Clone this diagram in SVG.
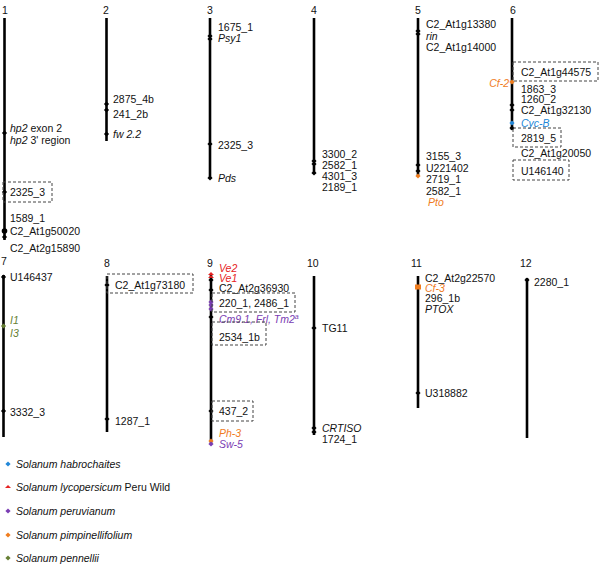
<svg xmlns="http://www.w3.org/2000/svg" width="600" height="565" viewBox="0 0 600 565">
<style>
text{font-family:"Liberation Sans",Arial,sans-serif;font-size:10.5px;fill:#111}
.i{font-style:italic}
.chr{stroke:#000;stroke-width:2.6;fill:none}
.box{fill:none;stroke:#444;stroke-width:1;stroke-dasharray:3,2}
.or{fill:#f07d1e}.bl{fill:#2287d8}.rd{fill:#e62222}.pu{fill:#7a3db3}.gr{fill:#667f34}
</style>
<defs>
<path id="m" d="M-2.6,0 L0,-2.6 L2.6,0 L0,2.6 Z"/>
<path id="t" d="M-3,1 L0,-2 L3,1 Z"/>
</defs>
<g id="connectors"/>
<g id="chr1">
<text x="2" y="14">1</text>
<line class="chr" x1="4.5" y1="18" x2="4.5" y2="240"/>
<use href="#m" x="4.5" y="133"/><use href="#m" x="4.5" y="192"/>
<circle cx="4.5" cy="231" r="2.8"/><use href="#m" x="4.5" y="237"/>
<text x="10" y="132"><tspan class="i">hp2</tspan> exon 2</text>
<text x="10" y="144"><tspan class="i">hp2</tspan> 3' region</text>
<rect class="box" x="3" y="182" width="49" height="20"/>
<text x="10" y="196">2325_3</text>
<text x="10" y="222">1589_1</text>
<text x="10" y="235">C2_At1g50020</text>
<text x="10" y="252">C2_At2g15890</text>
</g>
<g id="chr2">
<text x="103" y="14">2</text>
<line class="chr" x1="106.5" y1="18" x2="106.5" y2="141"/>
<use href="#m" x="106.5" y="104"/><use href="#m" x="106.5" y="110"/><use href="#m" x="106.5" y="134"/>
<text x="113" y="103">2875_4b</text>
<text x="113" y="118">241_2b</text>
<text x="113" y="138" class="i">fw 2.2</text>
</g>
<g id="chr3">
<text x="207" y="14">3</text>
<line class="chr" x1="210" y1="18" x2="210" y2="178"/>
<use href="#m" x="210" y="36"/><use href="#m" x="210" y="39"/><use href="#m" x="210" y="144"/><use href="#m" x="210" y="178"/>
<text x="218" y="31">1675_1</text>
<text x="218" y="42" class="i">Psy1</text>
<text x="218" y="149">2325_3</text>
<text x="218" y="182" class="i">Pds</text>
</g>
<g id="chr4">
<text x="311" y="14">4</text>
<line class="chr" x1="314" y1="18" x2="314" y2="174"/>
<use href="#m" x="314" y="161"/><use href="#m" x="314" y="164"/><use href="#m" x="314" y="173"/>
<text x="322" y="158">3300_2</text>
<text x="322" y="168.5">2582_1</text>
<text x="322" y="179.5">4301_3</text>
<text x="322" y="190.5">2189_1</text>
</g>
<g id="chr5">
<text x="415" y="14">5</text>
<line class="chr" x1="418" y1="18" x2="418" y2="176"/>
<use href="#m" x="418" y="31"/><use href="#m" x="418" y="34"/><use href="#m" x="418" y="165"/><use href="#m" x="418" y="171"/>
<use href="#m" x="418" y="176" class="or"/>
<text x="426" y="28">C2_At1g13380</text>
<text x="426" y="40" class="i">rin</text>
<text x="426" y="51">C2_At1g14000</text>
<text x="426" y="160">3155_3</text>
<text x="426" y="171.5">U221402</text>
<text x="426" y="182.5">2719_1</text>
<text x="426" y="195">2582_1</text>
<text x="428" y="206" class="i or">Pto</text>
</g>
<g id="chr6">
<text x="510" y="14">6</text>
<line class="chr" x1="512" y1="18" x2="512" y2="130"/>
<use href="#m" x="512" y="82" class="or"/>
<use href="#m" x="512" y="105"/><use href="#m" x="512" y="110"/>
<use href="#m" x="512" y="123" class="bl"/><use href="#m" x="512" y="128"/>
<text x="509" y="87" class="i or" text-anchor="end">Cf-2</text>
<rect class="box" x="513" y="62" width="85" height="19"/>
<text x="521" y="76">C2_At1g44575</text>
<text x="521" y="93">1863_3</text>
<text x="521" y="103">1260_2</text>
<text x="521" y="113.5">C2_At1g32130</text>
<text x="521" y="127" class="i bl">Cyc-B</text>
<rect class="box" x="513" y="128" width="48" height="19"/>
<text x="521" y="142">2819_5</text>
<text x="521" y="157">C2_At1g20050</text>
<rect class="box" x="513" y="160" width="56" height="20"/>
<text x="521" y="175">U146140</text>
</g>
<g id="chr7">
<text x="1" y="265">7</text>
<line class="chr" x1="3.5" y1="275" x2="3.5" y2="437"/>
<use href="#m" x="3.5" y="277"/><use href="#m" x="3.5" y="326" class="gr"/><use href="#m" x="3.5" y="411"/>
<text x="10" y="281">U146437</text>
<text x="10" y="324" class="i gr">I1</text>
<text x="10" y="337" class="i gr">I3</text>
<text x="10" y="416">3332_3</text>
</g>
<g id="chr8">
<text x="104" y="267">8</text>
<line class="chr" x1="107" y1="276" x2="107" y2="432"/>
<use href="#m" x="107" y="285"/><use href="#m" x="107" y="419"/>
<rect class="box" x="107" y="274" width="86" height="19"/>
<text x="115" y="289">C2_At1g73180</text>
<text x="115" y="425">1287_1</text>
</g>
<g id="chr9">
<text x="207" y="267">9</text>
<line class="chr" x1="211" y1="275" x2="211" y2="443"/>
<use href="#t" x="211" y="274" class="rd"/><use href="#t" x="211" y="277" class="rd"/>
<use href="#m" x="211" y="280"/><use href="#m" x="211" y="290"/>
<use href="#m" x="211" y="302" class="pu"/><use href="#m" x="211" y="305" class="pu"/><use href="#m" x="211" y="309" class="pu"/>
<use href="#m" x="211" y="317"/><use href="#m" x="211" y="411"/>
<use href="#m" x="211" y="441" class="or"/><use href="#m" x="211" y="444" class="pu"/>
<text x="219" y="272" class="i rd">Ve2</text>
<text x="219" y="281.5" class="i rd">Ve1</text>
<text x="219" y="291.5">C2_At2g36930</text>
<rect class="box" x="212" y="293" width="83" height="19"/>
<text x="219" y="307">220_1, 2486_1</text>
<text x="219" y="323" class="i pu">Cm9.1, Frl, Tm2<tspan font-size="7" dy="-4">a</tspan></text>
<rect class="box" x="212" y="322" width="54" height="23"/>
<text x="219" y="341">2534_1b</text>
<rect class="box" x="212" y="401" width="41" height="20"/>
<text x="219" y="415">437_2</text>
<text x="219" y="437" class="i or">Ph-3</text>
<text x="219" y="448" class="i pu">Sw-5</text>
</g>
<g id="chr10">
<text x="307" y="267">10</text>
<line class="chr" x1="314" y1="276" x2="314" y2="435"/>
<use href="#m" x="314" y="328"/><use href="#m" x="314" y="428"/><use href="#m" x="314" y="432"/>
<text x="322" y="332">TG11</text>
<text x="322" y="432" class="i">CRTISO</text>
<text x="322" y="442.5">1724_1</text>
</g>
<g id="chr11">
<text x="411" y="267">11</text>
<line class="chr" x1="418" y1="276" x2="418" y2="408"/>
<rect x="415" y="284.5" width="6" height="5" class="or"/>
<use href="#m" x="418" y="393"/>
<text x="425" y="282">C2_At2g22570</text>
<text x="425" y="292" class="i or">Cf-3</text>
<text x="425" y="302">296_1b</text>
<text x="425" y="312.5" class="i">PTOX</text>
<text x="425" y="397">U318882</text>
</g>
<g id="chr12">
<text x="520" y="267">12</text>
<line class="chr" x1="527" y1="278" x2="527" y2="438"/>
<use href="#m" x="527" y="280"/>
<text x="534" y="286">2280_1</text>
</g>
<g id="legend">
<use href="#m" x="8" y="464" class="bl"/>
<text x="16" y="468" class="i">Solanum habrochaites</text>
<use href="#t" x="8" y="487" class="rd"/>
<text x="16" y="491"><tspan class="i">Solanum lycopersicum</tspan> Peru Wild</text>
<use href="#m" x="8" y="511" class="pu"/>
<text x="16" y="515" class="i">Solanum peruvianum</text>
<use href="#m" x="8" y="535" class="or"/>
<text x="16" y="539" class="i">Solanum pimpinellifolium</text>
<use href="#m" x="8" y="558" class="gr"/>
<text x="16" y="562" class="i">Solanum pennellii</text>
</g>
</svg>
